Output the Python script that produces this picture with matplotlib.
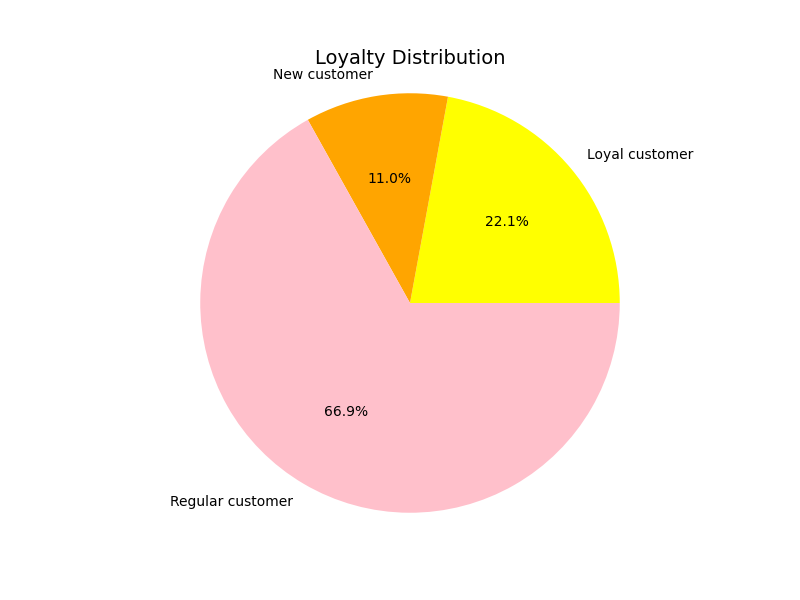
import matplotlib
matplotlib.use("Agg")
import matplotlib.pyplot as plt

# loyalty shares (percent)
labels = ["Loyal customer", "New customer", "Regular customer"]
shares = [22.1, 11.0, 66.9]
colors = ["yellow", "orange", "pink"]

plt.figure(figsize=(8, 6), dpi=100)
plt.pie(shares, labels=labels, colors=colors, autopct="%1.1f%%", radius=1.135)
plt.title("Loyalty Distribution", fontsize=14)
plt.savefig("out.png")
